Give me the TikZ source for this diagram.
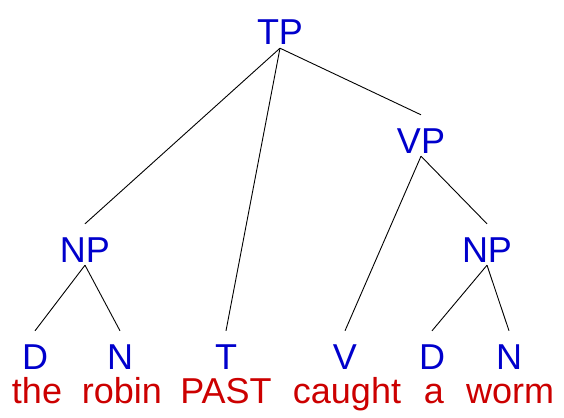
\documentclass[tikz,border=0pt]{standalone}
\usepackage{fontspec}
\setmainfont{Liberation Sans}
\usepackage{xcolor}
\usetikzlibrary{positioning}
\definecolor{catblue}{RGB}{0,0,204}
\definecolor{wordred}{RGB}{204,0,0}
\tikzset{
    cat/.style={text=catblue, font=\fontsize{36}{42}\selectfont, inner sep=3pt, text height=35pt, text depth=0pt, anchor=base},
    word/.style={text=wordred, font=\fontsize{36}{42}\selectfont, inner sep=0pt, anchor=base},
    branch/.style={draw=black, line width=0.9pt}}

\begin{document}
\begin{tikzpicture}[x=1pt,y=-1pt]
\useasboundingbox (0,0) rectangle (564,417);
% phrase nodes
\node[cat] (TP) at (280,45) {TP};
\node[cat] (VP) at (421,153) {VP};
\node[cat] (NPa) at (85,262) {NP};
\node[cat] (NPb) at (487,262) {NP};
% heads
\node[cat] (Da) at (35,369) {D};
\node[cat] (Na) at (120,369) {N};
\node[cat] (T) at (226,369) {T};
\node[cat] (V) at (345,369) {V};
\node[cat] (Db) at (432,369) {D};
\node[cat] (Nb) at (509,369) {N};
% words
\node[word] (wthe) at (37,403) {the};
\node[word] (wrobin) at (122,403) {robin};
\node[word] (wpast) at (226,403) {PAST};
\node[word] (wcaught) at (347,403) {caught};
\node[word] (wa) at (434,403) {a};
\node[word] (wworm) at (510,403) {worm};

\draw[branch] (TP.south) -- (NPa.north);
\draw[branch] (TP.south) -- (T.north);
\draw[branch] (TP.south) -- (VP.north);
\draw[branch] (VP.south) -- (V.north);
\draw[branch] (VP.south) -- (NPb.north);
\draw[branch] (NPa.south) -- (Da.north);
\draw[branch] (NPa.south) -- (Na.north);
\draw[branch] (NPb.south) -- (Db.north);
\draw[branch] (NPb.south) -- (Nb.north);
\end{tikzpicture}
\end{document}
